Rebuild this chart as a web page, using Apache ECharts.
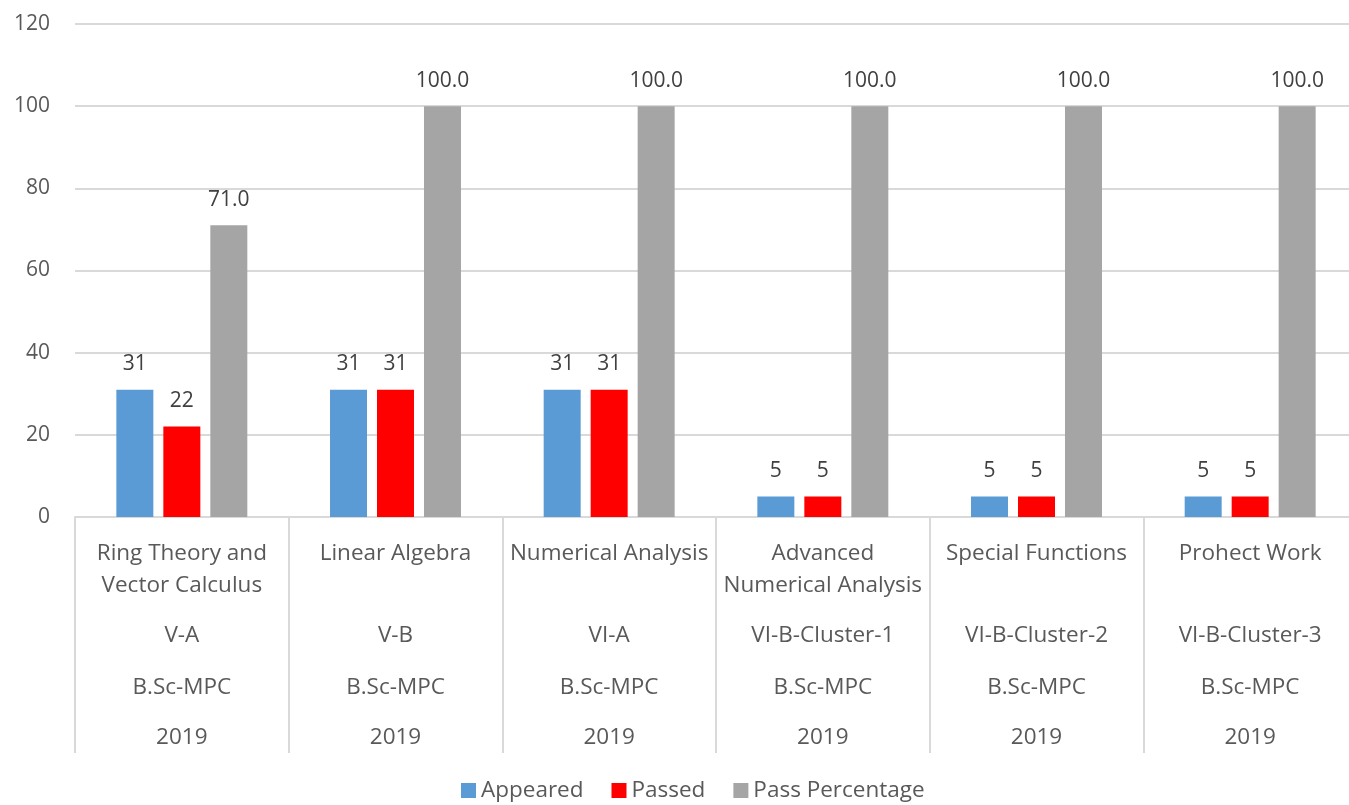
<!DOCTYPE html>
<html><head><meta charset="utf-8">
<script src="https://cdn.jsdelivr.net/npm/echarts@6/dist/echarts.min.js"></script>
<style>html,body{margin:0;padding:0;background:#fff;overflow:hidden;width:1349px;height:805px}#c{width:1357px;height:805px}</style>
</head><body><div id="c"></div>
<script>
const subjects = ["Ring Theory and\nVector Calculus","Linear Algebra","Numerical Analysis","Advanced\nNumerical Analysis","Special Functions","Prohect Work"];
const sections = ["V-A","V-B","VI-A","VI-B-Cluster-1","VI-B-Cluster-2","VI-B-Cluster-3"];
const programs = ["B.Sc-MPC","B.Sc-MPC","B.Sc-MPC","B.Sc-MPC","B.Sc-MPC","B.Sc-MPC"];
const years = ["2019","2019","2019","2019","2019","2019"];
const appeared = [31,31,31,5,5,5];
const passed = [22,31,31,5,5,5];
const passPct = [71.0,100.0,100.0,100.0,100.0,100.0];
const yTicks = [0,20,40,60,80,100,120];

const FONT = "Open Sans";
const txt = "#595959";
const CAT = 22.5;
const chart = echarts.init(document.getElementById('c'));
function lvlAxis(data, margin){
  return {type:'category', data:data, position:'bottom', gridIndex:0,
    axisLine:{show:false}, axisTick:{show:false}, splitLine:{show:false},
    axisLabel:{interval:0, margin:margin, color:txt, fontFamily:FONT, fontSize:CAT, lineHeight:26}};
}
const lbl = {show:true, position:'top', distance:15, color:'#404040', fontSize:21, fontFamily:FONT};
chart.setOption({
  animation:false,
  textStyle:{fontFamily:FONT},
  grid:{left:75, right:0, top:24, bottom:288, containLabel:false},
  legend:{top:774, left:456, itemWidth:15, itemHeight:15, itemGap:28, icon:'rect',
    textStyle:{color:txt, fontSize:22.5, fontFamily:FONT},
    data:['Appeared','Passed','Pass Percentage']},
  xAxis:[
    {type:'category', data:subjects,
     axisLine:{show:true, lineStyle:{color:'#D9D9D9', width:2}},
     axisTick:{show:true, interval:0, alignWithLabel:false, length:236, lineStyle:{color:'#D9D9D9', width:2}},
     axisLabel:{interval:0, margin:21, color:txt, fontFamily:FONT, fontSize:CAT, lineHeight:32}},
    lvlAxis(sections, 106),
    lvlAxis(programs, 158),
    lvlAxis(years, 208)
  ],
  yAxis:{type:'value', min:0, max:120, interval:20,
    axisLine:{show:false}, axisTick:{show:false},
    splitLine:{lineStyle:{color:'#D9D9D9', width:2}},
    axisLabel:{color:txt, fontSize:21, fontFamily:FONT, margin:25}},
  series:[
    {name:'Appeared', type:'bar', data:appeared, barWidth:37, barGap:'27%', itemStyle:{color:'#5B9BD5'}, label:lbl},
    {name:'Passed', type:'bar', data:passed, barWidth:37, barGap:'27%', itemStyle:{color:'#FF0000'}, label:lbl},
    {name:'Pass Percentage', type:'bar', data:passPct, barWidth:37, barGap:'27%', itemStyle:{color:'#A5A5A5'},
     label:Object.assign({}, lbl, {formatter:p=>p.value.toFixed(1)})}
  ]
});
</script></body></html>
